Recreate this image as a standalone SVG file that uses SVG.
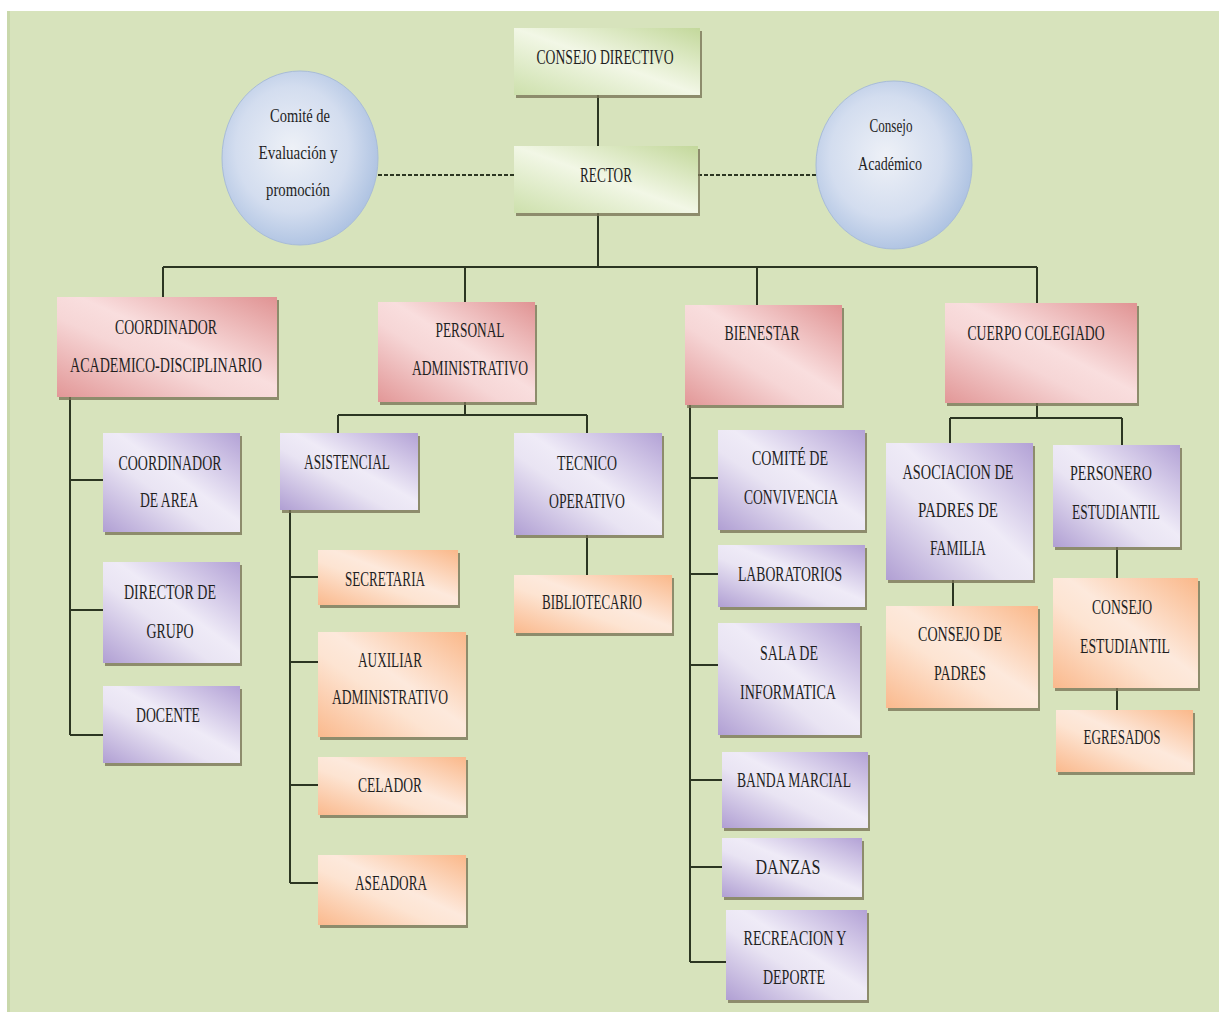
<svg xmlns="http://www.w3.org/2000/svg" width="1219" height="1012" viewBox="0 0 1219 1012">
<defs>
<linearGradient id="gG" x1="1" y1="0" x2="0" y2="1"><stop offset="0" stop-color="#c3d89b"/><stop offset="0.5" stop-color="#f2f7e6"/><stop offset="1" stop-color="#cde0ac"/></linearGradient>
<linearGradient id="gR" x1="1" y1="0" x2="0" y2="1"><stop offset="0" stop-color="#e09393"/><stop offset="0.45" stop-color="#f9dede"/><stop offset="0.6" stop-color="#f6d6d6"/><stop offset="1" stop-color="#e29797"/></linearGradient>
<linearGradient id="gP" x1="1" y1="0" x2="0" y2="1"><stop offset="0" stop-color="#b3a2d6"/><stop offset="0.45" stop-color="#efebf7"/><stop offset="0.6" stop-color="#e9e4f3"/><stop offset="1" stop-color="#b09fd3"/></linearGradient>
<linearGradient id="gO" x1="1" y1="0" x2="0" y2="1"><stop offset="0" stop-color="#fab88a"/><stop offset="0.45" stop-color="#fde9dc"/><stop offset="0.6" stop-color="#fde4d2"/><stop offset="1" stop-color="#fab98d"/></linearGradient>
<radialGradient id="gB" cx="0.45" cy="0.45" r="0.6"><stop offset="0" stop-color="#eef1f7"/><stop offset="0.6" stop-color="#d3ddef"/><stop offset="1" stop-color="#a9bfe0"/></radialGradient>
</defs>
<style>
.t{font-family:"Liberation Serif",serif;font-size:21px;fill:#1f1f1f;text-anchor:middle;dominant-baseline:central}
.e{font-family:"Liberation Serif",serif;font-size:18px;fill:#1f1f1f;text-anchor:middle;dominant-baseline:central}
.sh{fill:#7a7658;opacity:0.8}
.bg{fill:url(#gG)}.br{fill:url(#gR)}.bp{fill:url(#gP)}.bo{fill:url(#gO)}
.ln{stroke:#2c3622;stroke-width:2;fill:none}
.ds{stroke:#2c3622;stroke-width:2;fill:none;stroke-dasharray:4 2}
.el{fill:url(#gB);stroke:#a8bcd8;stroke-width:1}
</style>
<rect x="0" y="0" width="1219" height="1012" fill="#ffffff"/>
<rect x="7" y="11" width="1212" height="1001" fill="#d7e3bc"/>
<rect x="7" y="11" width="3" height="1001" fill="#c9d8ab"/>

<g id="connectors">
<path class="ln" d="M598 95V146"/>
<path class="ds" d="M378 175H514"/>
<path class="ds" d="M698 175H816"/>
<path class="ln" d="M598 213V267M163 267H1037M163 267V297M465 267V302M757 267V305M1037 267V303"/>
<path class="ln" d="M70 397V735M70 480H103M70 610H103M70 735H103"/>
<path class="ln" d="M465 402V415M338 415H587M338 415V433M587 415V433"/>
<path class="ln" d="M587 535V575"/>
<path class="ln" d="M290 510V883M290 577H318M290 662H318M290 785H318M290 883H318"/>
<path class="ln" d="M690 405V962M690 478H718M690 574H718M690 665H718M690 780H722M690 867H722M690 962H726"/>
<path class="ln" d="M1037 403V418M950 418H1122M950 418V443M1122 418V445"/>
<path class="ln" d="M953 580V606"/>
<path class="ln" d="M1117 547V578M1117 688V710"/>
</g>

<g id="consejo-directivo"><rect class="sh" x="516" y="31" width="186" height="67"/><rect class="bg" x="514" y="28" width="186" height="67"/><text class="t" x="605" y="57" textLength="137" lengthAdjust="spacingAndGlyphs">CONSEJO DIRECTIVO</text></g>
<g id="rector"><rect class="sh" x="516" y="149" width="184" height="67"/><rect class="bg" x="514" y="146" width="184" height="67"/><text class="t" x="606" y="175" textLength="52" lengthAdjust="spacingAndGlyphs">RECTOR</text></g>
<g id="comite-evaluacion"><ellipse class="el" cx="300" cy="158" rx="78" ry="87"/><text class="e" x="300" y="116" textLength="60" lengthAdjust="spacingAndGlyphs">Comité de</text><text class="e" x="298" y="153" textLength="79" lengthAdjust="spacingAndGlyphs">Evaluación y</text><text class="e" x="298" y="190" textLength="64" lengthAdjust="spacingAndGlyphs">promoción</text></g>
<g id="consejo-academico"><ellipse class="el" cx="894" cy="165" rx="78" ry="84"/><text class="e" x="891" y="126" textLength="43" lengthAdjust="spacingAndGlyphs">Consejo</text><text class="e" x="890" y="164" textLength="64" lengthAdjust="spacingAndGlyphs">Académico</text></g>

<g id="coordinador-academico"><rect class="sh" x="59" y="300" width="220" height="100"/><rect class="br" x="57" y="297" width="220" height="100"/><text class="t" x="166" y="327" textLength="102" lengthAdjust="spacingAndGlyphs">COORDINADOR</text><text class="t" x="166" y="365" textLength="192" lengthAdjust="spacingAndGlyphs">ACADEMICO-DISCIPLINARIO</text></g>
<g id="personal-administrativo"><rect class="sh" x="380" y="305" width="157" height="100"/><rect class="br" x="378" y="302" width="157" height="100"/><text class="t" x="470" y="330" textLength="69" lengthAdjust="spacingAndGlyphs">PERSONAL</text><text class="t" x="470" y="368" textLength="116" lengthAdjust="spacingAndGlyphs">ADMINISTRATIVO</text></g>
<g id="bienestar"><rect class="sh" x="687" y="308" width="157" height="100"/><rect class="br" x="685" y="305" width="157" height="100"/><text class="t" x="762" y="333" textLength="75" lengthAdjust="spacingAndGlyphs">BIENESTAR</text></g>
<g id="cuerpo-colegiado"><rect class="sh" x="947" y="306" width="192" height="100"/><rect class="br" x="945" y="303" width="192" height="100"/><text class="t" x="1036" y="333" textLength="137" lengthAdjust="spacingAndGlyphs">CUERPO COLEGIADO</text></g>

<g id="coordinador-area"><rect class="sh" x="105" y="436" width="137" height="99"/><rect class="bp" x="103" y="433" width="137" height="99"/><text class="t" x="170" y="463" textLength="103" lengthAdjust="spacingAndGlyphs">COORDINADOR</text><text class="t" x="169" y="500" textLength="58" lengthAdjust="spacingAndGlyphs">DE AREA</text></g>
<g id="director-grupo"><rect class="sh" x="105" y="565" width="137" height="101"/><rect class="bp" x="103" y="562" width="137" height="101"/><text class="t" x="170" y="592" textLength="92" lengthAdjust="spacingAndGlyphs">DIRECTOR DE</text><text class="t" x="170" y="631" textLength="47" lengthAdjust="spacingAndGlyphs">GRUPO</text></g>
<g id="docente"><rect class="sh" x="105" y="689" width="137" height="77"/><rect class="bp" x="103" y="686" width="137" height="77"/><text class="t" x="168" y="715" textLength="64" lengthAdjust="spacingAndGlyphs">DOCENTE</text></g>

<g id="asistencial"><rect class="sh" x="282" y="436" width="138" height="77"/><rect class="bp" x="280" y="433" width="138" height="77"/><text class="t" x="347" y="462" textLength="86" lengthAdjust="spacingAndGlyphs">ASISTENCIAL</text></g>
<g id="tecnico-operativo"><rect class="sh" x="516" y="436" width="148" height="102"/><rect class="bp" x="514" y="433" width="148" height="102"/><text class="t" x="587" y="463" textLength="60" lengthAdjust="spacingAndGlyphs">TECNICO</text><text class="t" x="587" y="501" textLength="76" lengthAdjust="spacingAndGlyphs">OPERATIVO</text></g>
<g id="bibliotecario"><rect class="sh" x="516" y="578" width="158" height="58"/><rect class="bo" x="514" y="575" width="158" height="58"/><text class="t" x="592" y="602" textLength="100" lengthAdjust="spacingAndGlyphs">BIBLIOTECARIO</text></g>
<g id="secretaria"><rect class="sh" x="320" y="553" width="140" height="55"/><rect class="bo" x="318" y="550" width="140" height="55"/><text class="t" x="385" y="579" textLength="80" lengthAdjust="spacingAndGlyphs">SECRETARIA</text></g>
<g id="auxiliar-administrativo"><rect class="sh" x="320" y="635" width="148" height="105"/><rect class="bo" x="318" y="632" width="148" height="105"/><text class="t" x="390" y="660" textLength="64" lengthAdjust="spacingAndGlyphs">AUXILIAR</text><text class="t" x="390" y="697" textLength="116" lengthAdjust="spacingAndGlyphs">ADMINISTRATIVO</text></g>
<g id="celador"><rect class="sh" x="320" y="760" width="148" height="58"/><rect class="bo" x="318" y="757" width="148" height="58"/><text class="t" x="390" y="785" textLength="64" lengthAdjust="spacingAndGlyphs">CELADOR</text></g>
<g id="aseadora"><rect class="sh" x="320" y="858" width="148" height="70"/><rect class="bo" x="318" y="855" width="148" height="70"/><text class="t" x="391" y="883" textLength="72" lengthAdjust="spacingAndGlyphs">ASEADORA</text></g>

<g id="comite-convivencia"><rect class="sh" x="720" y="433" width="147" height="100"/><rect class="bp" x="718" y="430" width="147" height="100"/><text class="t" x="790" y="458" textLength="76" lengthAdjust="spacingAndGlyphs">COMITÉ DE</text><text class="t" x="791" y="497" textLength="94" lengthAdjust="spacingAndGlyphs">CONVIVENCIA</text></g>
<g id="laboratorios"><rect class="sh" x="720" y="548" width="147" height="62"/><rect class="bp" x="718" y="545" width="147" height="62"/><text class="t" x="790" y="574" textLength="104" lengthAdjust="spacingAndGlyphs">LABORATORIOS</text></g>
<g id="sala-informatica"><rect class="sh" x="720" y="626" width="142" height="112"/><rect class="bp" x="718" y="623" width="142" height="112"/><text class="t" x="789" y="653" textLength="58" lengthAdjust="spacingAndGlyphs">SALA DE</text><text class="t" x="788" y="692" textLength="96" lengthAdjust="spacingAndGlyphs">INFORMATICA</text></g>
<g id="banda-marcial"><rect class="sh" x="724" y="755" width="146" height="76"/><rect class="bp" x="722" y="752" width="146" height="76"/><text class="t" x="794" y="780" textLength="114" lengthAdjust="spacingAndGlyphs">BANDA MARCIAL</text></g>
<g id="danzas"><rect class="sh" x="724" y="841" width="140" height="59"/><rect class="bp" x="722" y="838" width="140" height="59"/><text class="t" x="788" y="867" textLength="65" lengthAdjust="spacingAndGlyphs">DANZAS</text></g>
<g id="recreacion-deporte"><rect class="sh" x="728" y="913" width="141" height="90"/><rect class="bp" x="726" y="910" width="141" height="90"/><text class="t" x="795" y="938" textLength="103" lengthAdjust="spacingAndGlyphs">RECREACION Y</text><text class="t" x="794" y="977" textLength="62" lengthAdjust="spacingAndGlyphs">DEPORTE</text></g>

<g id="asociacion-padres"><rect class="sh" x="888" y="446" width="147" height="137"/><rect class="bp" x="886" y="443" width="147" height="137"/><text class="t" x="958" y="472" textLength="111" lengthAdjust="spacingAndGlyphs">ASOCIACION DE</text><text class="t" x="958" y="510" textLength="80" lengthAdjust="spacingAndGlyphs">PADRES DE</text><text class="t" x="958" y="548" textLength="56" lengthAdjust="spacingAndGlyphs">FAMILIA</text></g>
<g id="personero-estudiantil"><rect class="sh" x="1055" y="448" width="127" height="102"/><rect class="bp" x="1053" y="445" width="127" height="102"/><text class="t" x="1111" y="473" textLength="82" lengthAdjust="spacingAndGlyphs">PERSONERO</text><text class="t" x="1116" y="512" textLength="88" lengthAdjust="spacingAndGlyphs">ESTUDIANTIL</text></g>
<g id="consejo-padres"><rect class="sh" x="888" y="609" width="152" height="102"/><rect class="bo" x="886" y="606" width="152" height="102"/><text class="t" x="960" y="634" textLength="84" lengthAdjust="spacingAndGlyphs">CONSEJO DE</text><text class="t" x="960" y="673" textLength="52" lengthAdjust="spacingAndGlyphs">PADRES</text></g>
<g id="consejo-estudiantil"><rect class="sh" x="1055" y="581" width="145" height="110"/><rect class="bo" x="1053" y="578" width="145" height="110"/><text class="t" x="1122" y="607" textLength="60" lengthAdjust="spacingAndGlyphs">CONSEJO</text><text class="t" x="1125" y="646" textLength="90" lengthAdjust="spacingAndGlyphs">ESTUDIANTIL</text></g>
<g id="egresados"><rect class="sh" x="1058" y="713" width="137" height="62"/><rect class="bo" x="1056" y="710" width="137" height="62"/><text class="t" x="1122" y="737" textLength="77" lengthAdjust="spacingAndGlyphs">EGRESADOS</text></g>
</svg>
